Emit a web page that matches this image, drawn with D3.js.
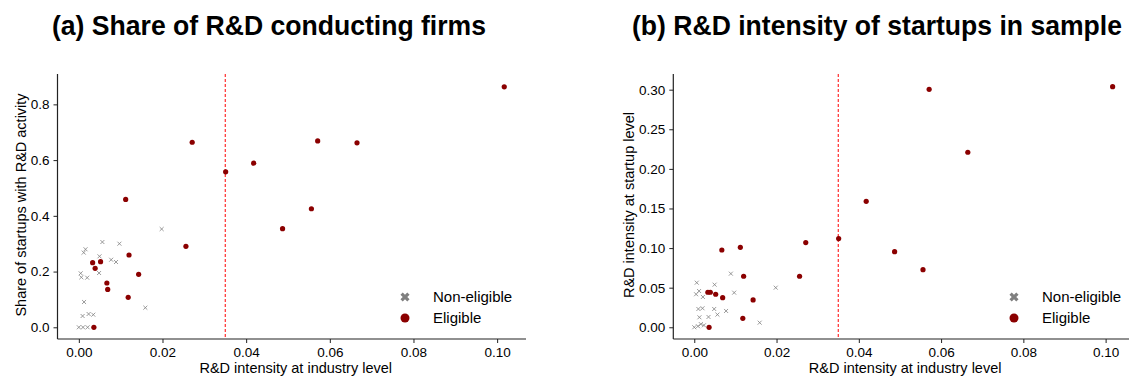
<!doctype html>
<html>
<head>
    <style>
        body { margin: 0; background: #fff; }
        text { font-family: "Liberation Sans", Arial, sans-serif; fill: #000; }
        .title { font-family: "Liberation Sans Narrow", "Liberation Sans", Arial, sans-serif; font-weight: bold; font-size: 28px; }
        .tick text { font-size: 13.5px; }
        .axlabel { font-size: 14.5px; }
        .legend text { font-size: 15px; }
    </style>
    <script src="https://d3js.org/d3.v7.min.js"></script>
</head>
<body>
<svg width="1129" height="378"></svg>
<script>

    // industries with eligible startups (x shared by both panels)
    var eligX  = [0.0033, 0.0036, 0.0039, 0.0052, 0.0067, 0.0069, 0.0112, 0.0118, 0.0120, 0.0143,
                  0.0256, 0.0271, 0.0351, 0.0418, 0.0487, 0.0556, 0.0571, 0.0665, 0.1017];
    var eligA  = [0.232, 0.0, 0.2115, 0.2355, 0.159, 0.136, 0.459, 0.1075, 0.2594, 0.190,
                  0.2905, 0.664, 0.558, 0.589, 0.354, 0.4255, 0.669, 0.662, 0.863];
    var eligB  = [0.0442, 0.0, 0.0442, 0.0417, 0.0976, 0.0374, 0.101, 0.0113, 0.0644, 0.0345,
                  0.0644, 0.107, 0.112, 0.159, 0.0955, 0.0727, 0.3005, 0.221, 0.3038];

    // non-eligible industries
    var nonX   = [0.0, 0.00044, 0.0006, 0.0009, 0.001, 0.00117, 0.00125, 0.0016, 0.002, 0.0021,
                  0.00234, 0.00346, 0.00484, 0.00494, 0.00563, 0.00773, 0.00889, 0.0097, 0.0159, 0.0198];
    var nonA   = [0.0, 0.1937, 0.1794, 0.0405, 0.0, 0.268, 0.0908, 0.280, 0.178, 0.0,
                  0.0477, 0.0452, 0.1948, 0.2547, 0.306, 0.2425, 0.2343, 0.300, 0.0703, 0.3526];
    var nonB   = [0.0, 0.0417, 0.0563, 0.0013, 0.0231, 0.0458, 0.0126, 0.004, 0.024, 0.0383,
                  0.0025, 0.013, 0.0231, 0.0538, 0.016, 0.0206, 0.0677, 0.0437, 0.0058, 0.050];

    var xTicks  = [0.00, 0.02, 0.04, 0.06, 0.08, 0.10];
    var yTicksA = [0.0, 0.2, 0.4, 0.6, 0.8];
    var yTicksB = [0.00, 0.05, 0.10, 0.15, 0.20, 0.25, 0.30];
    var threshold = 0.035;
    var legendLabels = ["Non-eligible", "Eligible"];

    var red = "#8b0000", grey = "#808080";
    var svg = d3.select("svg");

    function panel(opt) {
        var x = d3.scaleLinear().domain([-0.0051, 0.1069]).range([opt.left, opt.right]);
        var y = d3.scaleLinear().domain(opt.yDomain).range([339, 74]);
        var g = svg.append("g");

        g.append("text").attr("class", "title")
            .attr("x", opt.titleX).attr("y", 35)
            .attr("textLength", opt.titleW).attr("lengthAdjust", "spacingAndGlyphs")
            .text(opt.title);

        var xa = g.append("g").attr("transform", "translate(0,339)")
            .call(d3.axisBottom(x).tickValues(xTicks).tickFormat(d3.format(".2f")).tickSize(4).tickPadding(4));
        var ya = g.append("g").attr("transform", "translate(" + opt.left + ",0)")
            .call(d3.axisLeft(y).tickValues(opt.yTicks).tickFormat(d3.format(opt.yFmt)).tickSize(4).tickPadding(4));
        [xa, ya].forEach(function(a) {
            a.select(".domain").attr("stroke", "#222").attr("stroke-width", 1.2);
            a.selectAll(".tick line").attr("stroke", "#222");
            a.selectAll("text").style("font-family", "'Liberation Sans', Arial, sans-serif").attr("fill", "#222");
        });
        // only the plotted range of the spines
        xa.select(".domain").attr("d", "M" + opt.left + ",0H" + Math.min(opt.right, 1129));
        ya.select(".domain").attr("d", "M0,339V74");

        g.append("text").attr("class", "axlabel")
            .attr("x", (opt.left + Math.min(opt.right, 1129)) / 2 + 4).attr("y", 373)
            .attr("text-anchor", "middle").text("R&D intensity at industry level");
        g.append("text").attr("class", "axlabel")
            .attr("transform", "translate(" + opt.ylabX + ",205) rotate(-90)")
            .attr("text-anchor", "middle").text(opt.ylab);

        g.append("line")
            .attr("x1", x(threshold)).attr("x2", x(threshold))
            .attr("y1", 74).attr("y2", 339)
            .attr("stroke", "red").attr("stroke-width", 1).attr("stroke-dasharray", "3,2");

        var cross = d3.symbol(d3.symbolTimes, 12);
        g.selectAll(".non").data(nonX).enter().append("path")
            .attr("class", "non")
            .attr("d", cross)
            .attr("transform", function(d, i) { return "translate(" + x(d) + "," + y(opt.nonY[i]) + ")"; })
            .attr("fill", "none").attr("stroke", grey).attr("stroke-width", 0.8);

        g.selectAll(".elig").data(eligX).enter().append("circle")
            .attr("class", "elig")
            .attr("cx", function(d) { return x(d); })
            .attr("cy", function(d, i) { return y(opt.eligY[i]); })
            .attr("r", 2.6)
            .attr("fill", red);

        var lg = g.append("g").attr("class", "legend");
        lg.append("path")
            .attr("d", d3.symbol(d3.symbolCross, 52))
            .attr("transform", "translate(" + opt.legX + ",297) rotate(45)")
            .attr("fill", grey);
        lg.append("circle").attr("cx", opt.legX).attr("cy", 318).attr("r", 4.5).attr("fill", red);
        lg.selectAll("text").data(legendLabels).enter().append("text")
            .attr("x", opt.legX + 28)
            .attr("y", function(d, i) { return 302 + i * 21; })
            .text(function(d) { return d; });
    }

    panel({
        left: 57.5, right: 526, yDomain: [-0.042, 0.909], yTicks: yTicksA, yFmt: ".1f",
        eligY: eligA, nonY: nonA,
        title: "(a) Share of R&D conducting firms", titleX: 52, titleW: 434,
        ylab: "Share of startups with R&D activity", ylabX: 25.5, legX: 405
    });
    panel({
        left: 673.3, right: 1134, yDomain: [-0.0148, 0.3198], yTicks: yTicksB, yFmt: ".2f",
        eligY: eligB, nonY: nonB,
        title: "(b) R&D intensity of startups in sample", titleX: 632, titleW: 490,
        ylab: "R&D intensity at startup level", ylabX: 634, legX: 1014
    });
</script>
</body>
</html>
